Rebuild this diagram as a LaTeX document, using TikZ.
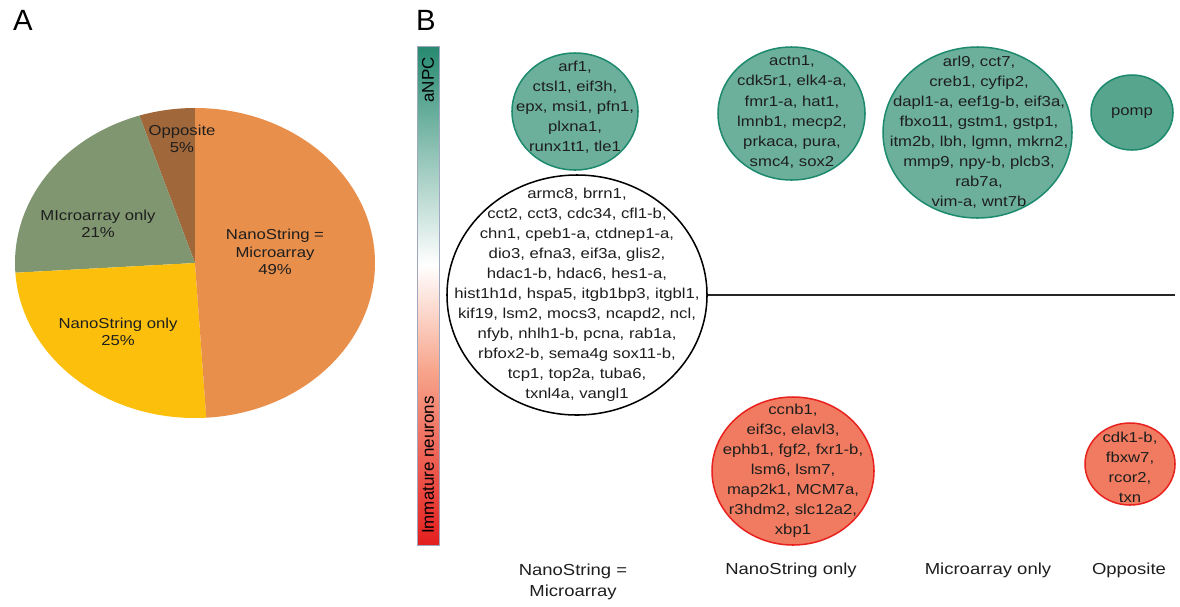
\documentclass[tikz,border=0pt]{standalone}
\usepackage{fontspec}
\setmainfont{Liberation Sans}[FakeStretch=1.16]
\newfontfamily\plainsans{Liberation Sans}
\usepackage{tikz}
\usetikzlibrary{shapes.geometric,positioning}
\definecolor{txtcolor}{RGB}{30, 30, 30}
\definecolor{oppcolor}{RGB}{160, 103, 58}
\definecolor{microcolor}{RGB}{127, 150, 112}
\definecolor{nsonlycolor}{RGB}{252, 192, 12}
\definecolor{nseqcolor}{RGB}{232, 143, 75}
\definecolor{npcfill}{RGB}{108, 176, 156}
\definecolor{pompfill}{RGB}{88, 165, 142}
\definecolor{npcline}{RGB}{29, 138, 110}
\definecolor{neuronfill}{RGB}{240, 123, 96}
\definecolor{neuronline}{RGB}{232, 35, 31}
\definecolor{barteal}{RGB}{38, 138, 112}
\definecolor{barsalmon}{RGB}{247, 165, 140}
\definecolor{barred}{RGB}{228, 30, 30}
\definecolor{barframe}{RGB}{160, 168, 192}

\begin{document}
\begin{tikzpicture}[
    x=0.03cm, y=-0.03cm,
    bubble/.style={ellipse, draw, line width=1.3pt, inner sep=0pt},
    npcbub/.style={bubble, draw=npcline, fill=npcfill},
    neuronbub/.style={bubble, draw=neuronline, fill=neuronfill},
    genes/.style={align=center, text=txtcolor, inner sep=0pt, font=\fontsize{12.3}{17.1}\selectfont},
    pielabel/.style={align=center, text=txtcolor, font=\fontsize{12.3}{15}\selectfont},
    catlabel/.style={align=center, text=txtcolor, font=\fontsize{13.6}{18}\selectfont},
    barlabel/.style={rotate=90, text=black, font=\plainsans\fontsize{14.5}{17}\selectfont},
    panel/.style={text=black, font=\plainsans\fontsize{25}{30}\selectfont}
]
    \useasboundingbox (0,0) rectangle (1180,606);

    % Panel letters
    \node[panel] (labA) at (23,20) {A};
    \node[panel] (labB) at (426,20) {B};

    % Pie chart
    \coordinate (piec) at (195,263);
    \foreach \a/\b/\c in {90/108/oppcolor, 108/183.6/microcolor, 183.6/273.6/nsonlycolor, 273.6/450/nseqcolor}
        \fill[\c] (piec) -- ++(-\a:180 and 155) arc[start angle=-\a, end angle=-\b, x radius=180, y radius=155] -- cycle;

    \node[pielabel] (pieopp) at (182,139) {Opposite\\5\%};
    \node[pielabel] (piemicro) at (98,224) {MIcroarray only\\21\%};
    \node[pielabel] (pieeq) at (275,252) {NanoString =\\Microarray\\49\%};
    \node[pielabel] (piens) at (118,332) {NanoString only\\25\%};

    % Colour bar
    \shade[top color=barteal, bottom color=white] (417,46) rectangle (439,265);
    \shade[top color=white, bottom color=barsalmon] (417,265) rectangle (439,370);
    \shade[top color=barsalmon, bottom color=barred] (417,370) rectangle (439,545);
    \draw[barframe, line width=0.8pt] (417,46) rectangle (439,545);
    \node[barlabel] (anpc) at (428,80) {aNPC};
    \node[barlabel] (immature) at (428,465) {Immature neurons};

    % Bubbles
    \node[npcbub, minimum width=3.78cm, minimum height=3.51cm] (arf) at (575,111.5) {};
    \node[genes] (arftxt) at (575,107) {arf1,\\ctsl1, eif3h,\\epx, msi1, pfn1,\\plxna1,\\runx1t1, tle1};

    \node[bubble, draw=black, fill=white, minimum width=7.8cm, minimum height=7.2cm] (big) at (577,295) {};
    \node[genes] (bigtxt) at (577,295) {armc8, brrn1,\\cct2, cct3, cdc34, cfl1-b,\\chn1, cpeb1-a, ctdnep1-a,\\dio3, efna3, eif3a, glis2,\\hdac1-b, hdac6, hes1-a,\\hist1h1d, hspa5, itgb1bp3, itgbl1,\\kif19, lsm2, mocs3, ncapd2, ncl,\\nfyb, nhlh1-b, pcna, rab1a,\\rbfox2-b, sema4g sox11-b,\\tcp1, top2a, tuba6,\\txnl4a, vangl1};

    \node[npcbub, minimum width=4.41cm, minimum height=3.99cm] (actn) at (791.5,113.5) {};
    \node[genes] (actntxt) at (792,112) {actn1,\\cdk5r1, elk4-a,\\fmr1-a, hat1,\\lmnb1, mecp2,\\prkaca, pura,\\smc4, sox2};

    \node[npcbub, minimum width=5.67cm, minimum height=5.13cm] (arl) at (977.5,132.5) {};
    \node[genes] (arltxt) at (979,132) {arl9, cct7,\\creb1, cyfip2,\\dapl1-a, eef1g-b, eif3a,\\fbxo11, gstm1, gstp1,\\itm2b, lbh, lgmn, mkrn2,\\mmp9, npy-b, plcb3,\\rab7a,\\vim-a, wnt7b};

    \node[bubble, draw=npcline, fill=pompfill, minimum width=2.46cm, minimum height=2.25cm] (pomp) at (1132,112.5) {};
    \node[genes] (pomptxt) at (1132,113) {pomp};

    \node[neuronbub, minimum width=4.86cm, minimum height=4.44cm] (ccnb) at (793,471) {};
    \node[genes] (ccnbtxt) at (793,471) {ccnb1,\\eif3c, elavl3,\\ephb1, fgf2, fxr1-b,\\lsm6, lsm7,\\map2k1, MCM7a,\\r3hdm2, slc12a2,\\xbp1};

    \node[neuronbub, minimum width=2.7cm, minimum height=2.46cm] (cdk) at (1130,464) {};
    \node[genes] (cdktxt) at (1130,467) {cdk1-b,\\fbxw7,\\rcor2,\\txn};

    % Divider
    \coordinate (lineend) at (1175,295);
    \draw[line width=1.3pt, black!85] (big.east) -- (lineend);

    % Category labels
    \node[catlabel] (cateq) at (573,582) {NanoString =\\Microarray};
    \node[catlabel] (catns) at (791,570) {NanoString only};
    \node[catlabel] (catmicro) at (988,570) {Microarray only};
    \node[catlabel] (catopp) at (1129,570) {Opposite};
\end{tikzpicture}
\end{document}
